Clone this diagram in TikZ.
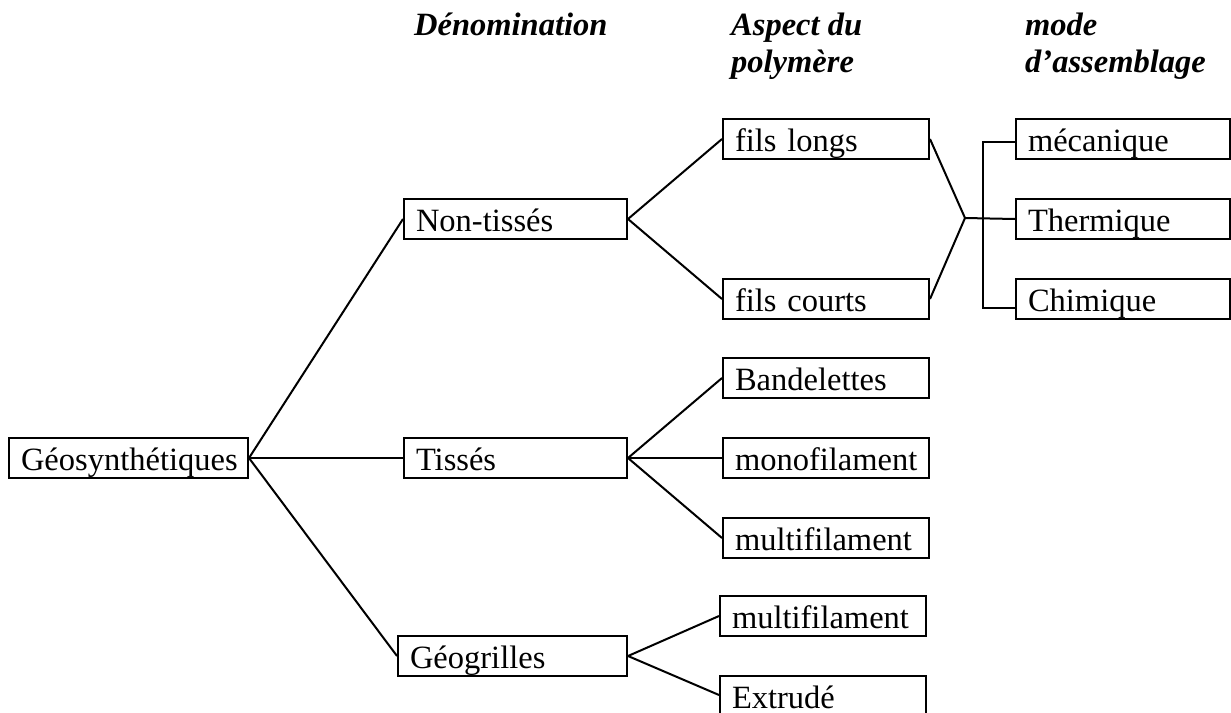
\documentclass[tikz,border=0pt]{standalone}
\usepackage{fontspec}
\setmainfont{Liberation Serif}
\begin{document}
\begin{tikzpicture}[x=1pt,y=-1pt,
  box/.style={draw, line width=2pt, inner xsep=12pt, inner ysep=0pt,
    text height=32pt, text depth=8pt, align=left, anchor=north west,
    font=\fontsize{32.5}{38}\selectfont},
  hdr/.style={anchor=base west, inner sep=0pt,
    font=\fontsize{32.5}{38}\selectfont\bfseries\itshape},
  conn/.style={line width=2pt}]
\clip (0,0) rectangle (1231,712);
% headers
\node[hdr] (h1) at (414,35) {Dénomination};
\node[hdr] (h2a) at (731,35) {Aspect du};
\node[hdr] (h2b) at (731,72) {polymère};
\node[hdr] (h3a) at (1025,35) {mode};
\node[hdr] (h3b) at (1025,72) {d’assemblage};
% level 0
\node[box, text width=215pt] (geo) at (8,437) {Géosynthétiques};
% level 1
\node[box, text width=199pt] (nt) at (403,198) {Non-tissés};
\node[box, text width=199pt] (ti) at (403,437) {Tissés};
\node[box, text width=205pt] (gg) at (397,635) {Géogrilles};
% level 2
\node[box, text width=182pt] (fl) at (722,118) {fils longs};
\node[box, text width=182pt] (fc) at (722,278) {fils courts};
\node[box, text width=182pt] (ba) at (722,357) {Bandelettes};
\node[box, text width=182pt] (mo) at (722,437) {monofilament};
\node[box, text width=182pt] (mu) at (722,517) {multifilament};
\node[box, text width=182pt] (mu2) at (719,595) {multifilament};
\node[box, text width=182pt, text depth=6pt] (ex) at (719,675) {Extrudé};
% level 3
\node[box, text width=190pt] (me) at (1015,118) {mécanique};
\node[box, text width=190pt] (th) at (1015,198) {Thermique};
\node[box, text width=190pt] (ch) at (1015,278) {Chimique};
% connectors
\draw[conn] (geo.east) -- (nt.west);
\draw[conn] (geo.east) -- (ti.west);
\draw[conn] (geo.east) -- (gg.west);
\draw[conn] (nt.east) -- (fl.west);
\draw[conn] (nt.east) -- (fc.west);
\draw[conn] (ti.east) -- (ba.west);
\draw[conn] (ti.east) -- (mo.west);
\draw[conn] (ti.east) -- (mu.west);
\draw[conn] (gg.east) -- (mu2.west);
\draw[conn] (gg.east) -- (ex.west);
\coordinate (j) at (965,218);
\draw[conn] (fl.east) -- (j) -- (fc.east);
\draw[conn] (j) -- (th.west);
\draw[conn] ([yshift=-2.5pt]me.west) -- ++(-32,0) |- ([yshift=-8.5pt]ch.west);
\end{tikzpicture}
\end{document}
